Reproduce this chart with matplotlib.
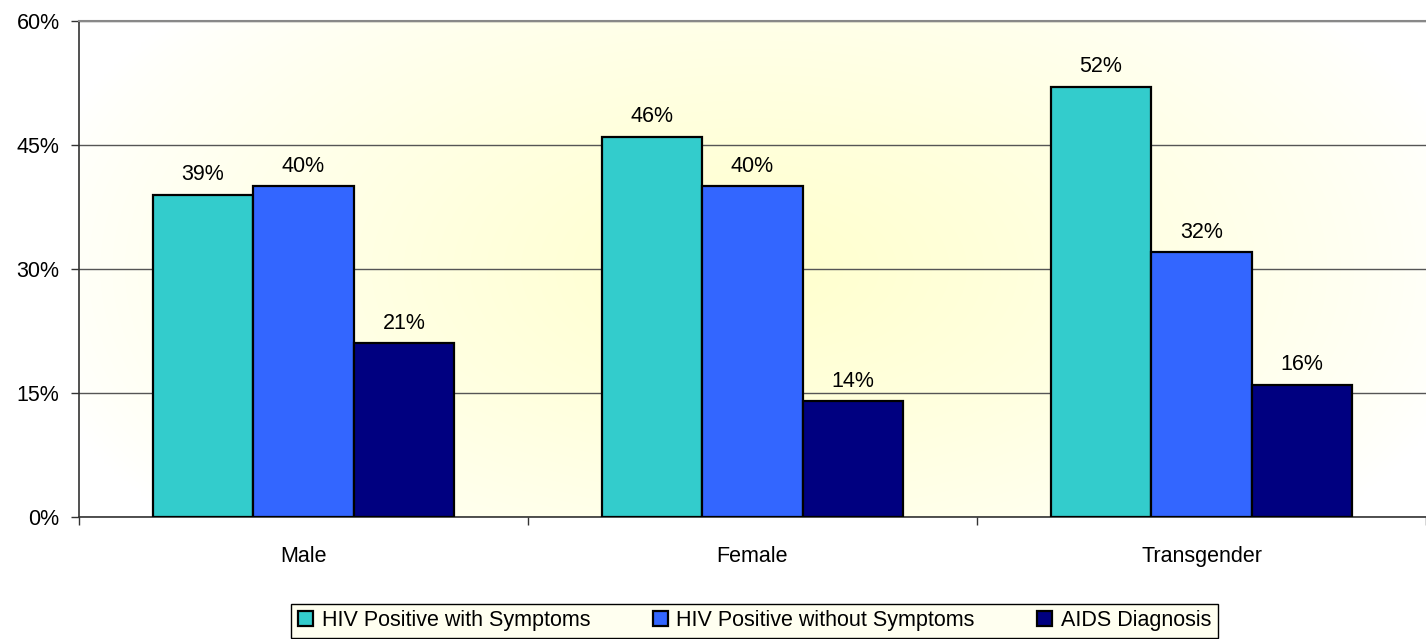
import numpy as np
import matplotlib
matplotlib.use("Agg")
import matplotlib.pyplot as plt
from matplotlib.ticker import FixedLocator

categories = ["Male", "Female", "Transgender"]
series_names = ["HIV Positive with Symptoms", "HIV Positive without Symptoms", "AIDS Diagnosis"]
with_symptoms = [39, 46, 52]
without_symptoms = [40, 40, 32]
aids_diagnosis = [21, 14, 16]
y_ticks = [0, 15, 30, 45, 60]
y_tick_labels = ["0%", "15%", "30%", "45%", "60%"]

colors = ["#33CCCC", "#3366FF", "#000080"]

plt.rcParams['font.family'] = ['Liberation Sans', 'DejaVu Sans']
FS = 15.5

fig = plt.figure(figsize=(14.26, 6.39), dpi=100)
ax = fig.add_axes([79/1426, 1 - 517/639, 1 - 79/1426, (517 - 21)/639])

# radial gradient background
ny, nx = 200, 400
yy, xx = np.mgrid[0:1:ny*1j, 0:1:nx*1j]
r = np.sqrt(((xx - 0.5) / 0.55) ** 2 + ((yy - 0.5) / 0.8) ** 2)
t = np.clip(1 - r, 0, 1) ** 0.8
img = np.ones((ny, nx, 3))
img[..., 2] = 1 - t * (1 - 205/255)
ax.imshow(img, extent=[0, 1, 0, 1], transform=ax.transAxes, aspect='auto',
          zorder=0, interpolation='bilinear')

x = np.arange(len(categories))
width = 0.224
series = [with_symptoms, without_symptoms, aids_diagnosis]
for i, (vals, name, c) in enumerate(zip(series, series_names, colors)):
    bars = ax.bar(x + (i - 1) * width, vals, width, color=c, edgecolor='black',
                  linewidth=1.6, label=name, zorder=3)
    for b, v in zip(bars, vals):
        ax.annotate(f"{v}%", (b.get_x() + b.get_width() / 2, v),
                    xytext=(0, 7), textcoords='offset points',
                    ha='center', va='bottom', fontsize=FS, color='black', zorder=4)

ax.set_xlim(-0.5, 2.5)
ax.set_ylim(0, 60)
ax.set_yticks(y_ticks)
ax.set_yticklabels(y_tick_labels, fontsize=FS)
ax.set_xticks(x)
ax.set_xticklabels(categories, fontsize=FS)
ax.xaxis.set_minor_locator(FixedLocator([-0.5, 0.5, 1.5, 2.5]))
ax.tick_params(axis='x', which='major', length=0, pad=21)
ax.tick_params(axis='x', which='minor', length=6, width=1, color='#333333')
ax.tick_params(axis='y', length=6, width=1, color='#333333', pad=8)

ax.grid(axis='y', color='#555555', linewidth=1, zorder=1)
ax.set_axisbelow(True)
ax.spines['right'].set_visible(False)
ax.spines['top'].set_color('#888888')
ax.spines['top'].set_linewidth(1.5)
ax.spines['left'].set_color('#333333')
ax.spines['bottom'].set_color('#333333')
ax.spines['left'].set_linewidth(1.2)
ax.spines['bottom'].set_linewidth(1.2)

leg = fig.legend(loc='lower center', bbox_to_anchor=(754.5/1426, 0.002), ncol=3,
                 fontsize=FS, frameon=True, fancybox=False, edgecolor='black',
                 handlelength=0.7, handleheight=0.7, handletextpad=0.4,
                 columnspacing=2.9, borderpad=0.3, borderaxespad=0)
leg.get_frame().set_facecolor('#FFFFF0')
leg.get_frame().set_linewidth(1)
leg.get_frame().set_alpha(1)

fig.savefig("out.png", dpi=100)
